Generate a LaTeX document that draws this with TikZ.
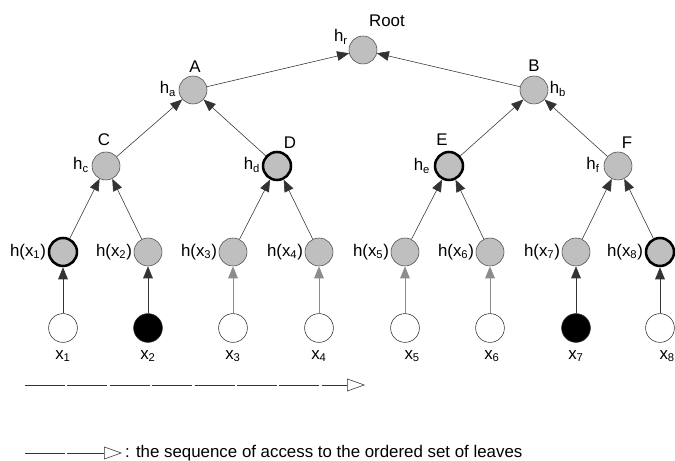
\documentclass[tikz,border=0pt]{standalone}
\usepackage{fontspec}
\setmainfont{Liberation Sans}
\usetikzlibrary{arrows.meta,positioning}

\begin{document}
\begin{tikzpicture}[
  font=\fontsize{12}{14}\selectfont,
  hnode/.style={circle, draw=black!70, fill=black!25,
    minimum size=0.7cm, inner sep=0pt},
  hbold/.style={hnode, draw=black, line width=1.8pt},
  leaf/.style={circle, draw=black!80, fill=white,
    minimum size=0.72cm, inner sep=0pt},
  leafdark/.style={leaf, fill=black},
  lbl/.style={inner sep=1pt},
  arr/.style={-{Triangle[length=3mm,width=2.4mm]}, black!80, thin},
  faint/.style={arr, black!45},
  seq/.style={-{Triangle[open,length=4.5mm,width=3.2mm]}, black!80, thin,
    dash pattern=on 1cm off 0.06cm},
]
  \useasboundingbox (0,0) rectangle (16.875,11.525);

  % tree of hashes
  \node[hnode] (root) at (9.075,10.275) {};
  \node[hnode] (a) at (4.825,9.275) {};
  \node[hnode] (b) at (13.35,9.275) {};
  \node[hnode] (c) at (2.65,7.375) {};
  \node[hbold] (d) at (6.925,7.375) {};
  \node[hbold] (e) at (11.225,7.375) {};
  \node[hnode] (f) at (15.45,7.375) {};

  \node[lbl] (lroot) at (9.675,11.0) {Root};
  \node[lbl] (la) at (4.875,9.85) {A};
  \node[lbl] (lb) at (13.35,9.875) {B};
  \node[lbl] (lc) at (2.6,8.025) {C};
  \node[lbl] (ld) at (7.25,7.95) {D};
  \node[lbl] (le) at (11.05,8.025) {E};
  \node[lbl] (lf) at (15.675,7.95) {F};

  \node[lbl] (hr) at (8.525,10.6) {h\textsubscript{r}};
  \node[lbl] (ha) at (4.2,9.3) {h\textsubscript{a}};
  \node[lbl] (hb) at (13.95,9.3) {h\textsubscript{b}};
  \node[lbl] (hc) at (2.025,7.4) {h\textsubscript{c}};
  \node[lbl] (hd) at (6.3,7.4) {h\textsubscript{d}};
  \node[lbl] (he) at (10.55,7.375) {h\textsubscript{e}};
  \node[lbl] (hf) at (14.825,7.4) {h\textsubscript{f}};

  % leaf hashes
  \node[hbold] (h1) at (1.575,5.225) {};
  \node[hnode] (h2) at (3.7,5.225) {};
  \node[hnode] (h3) at (5.825,5.225) {};
  \node[hnode] (h4) at (7.975,5.225) {};
  \node[hnode] (h5) at (10.125,5.225) {};
  \node[hnode] (h6) at (12.25,5.225) {};
  \node[hnode] (h7) at (14.4,5.225) {};
  \node[hbold] (h8) at (16.5,5.225) {};

  \node[lbl, left=0pt of h1] (lh1) {h(x\textsubscript{1})};
  \node[lbl, left=0pt of h2] (lh2) {h(x\textsubscript{2})};
  \node[lbl, left=0pt of h3] (lh3) {h(x\textsubscript{3})};
  \node[lbl, left=0pt of h4] (lh4) {h(x\textsubscript{4})};
  \node[lbl, left=0pt of h5] (lh5) {h(x\textsubscript{5})};
  \node[lbl, left=0pt of h6] (lh6) {h(x\textsubscript{6})};
  \node[lbl, left=0pt of h7] (lh7) {h(x\textsubscript{7})};
  \node[lbl, left=0pt of h8] (lh8) {h(x\textsubscript{8})};

  % leaves
  \node[leaf] (x1) at (1.575,3.325) {};
  \node[leafdark] (x2) at (3.7,3.325) {};
  \node[leaf] (x3) at (5.825,3.325) {};
  \node[leaf] (x4) at (7.975,3.325) {};
  \node[leaf] (x5) at (10.125,3.325) {};
  \node[leaf] (x6) at (12.25,3.325) {};
  \node[leafdark] (x7) at (14.4,3.325) {};
  \node[leaf] (x8) at (16.5,3.325) {};

  \node[lbl, below=0.15cm of x1] (lx1) {x\textsubscript{1}};
  \node[lbl, below=0.15cm of x2] (lx2) {x\textsubscript{2}};
  \node[lbl, below=0.15cm of x3] (lx3) {x\textsubscript{3}};
  \node[lbl, below=0.15cm of x4] (lx4) {x\textsubscript{4}};
  \node[lbl, below=0.15cm of x5, xshift=0.18cm] (lx5) {x\textsubscript{5}};
  \node[lbl, below=0.15cm of x6, xshift=0.05cm] (lx6) {x\textsubscript{6}};
  \node[lbl, below=0.15cm of x7] (lx7) {x\textsubscript{7}};
  \node[lbl, below=0.15cm of x8, xshift=0.18cm] (lx8) {x\textsubscript{8}};

  \draw[arr] (a) -- (root);
  \draw[arr] (b) -- (root);
  \draw[arr] (c) -- (a);
  \draw[arr] (d) -- (a);
  \draw[arr] (e) -- (b);
  \draw[arr] (f) -- (b);
  \draw[arr] (h1) -- (c);
  \draw[arr] (h2) -- (c);
  \draw[arr] (h3) -- (d);
  \draw[arr] (h4) -- (d);
  \draw[arr] (h5) -- (e);
  \draw[arr] (h6) -- (e);
  \draw[arr] (h7) -- (f);
  \draw[arr] (h8) -- (f);
  \draw[arr] (x1) -- (h1);
  \draw[arr] (x2) -- (h2);
  \draw[faint] (x3) -- (h3);
  \draw[faint] (x4) -- (h4);
  \draw[faint] (x5) -- (h5);
  \draw[faint] (x6) -- (h6);
  \draw[arr] (x7) -- (h7);
  \draw[arr] (x8) -- (h8);

  % access order
  \coordinate (seqstart) at (0.625,1.9);
  \coordinate (seqend) at (9.125,1.9);
  \draw[seq] (seqstart) -- (seqend);

  \coordinate (legstart) at (0.625,0.2);
  \node[lbl, anchor=west, inner sep=2pt] (legtxt) at (3.05,0.2)
    {: the sequence of access to the ordered set of leaves};
  \draw[seq] (legstart) -- (legtxt);
\end{tikzpicture}
\end{document}
